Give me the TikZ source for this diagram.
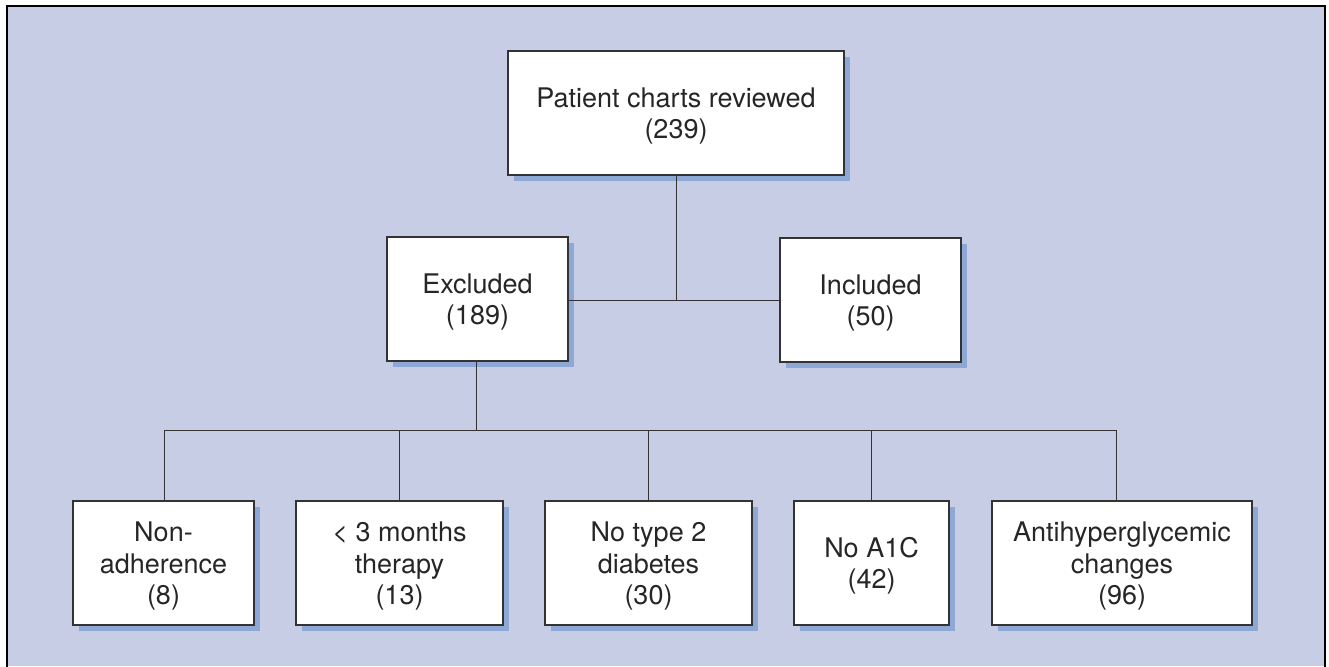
\documentclass[tikz,border=0pt]{standalone}
\usepackage{fontspec}
\setmainfont{TeX Gyre Heros}
\definecolor{bgc}{HTML}{C8CDE6}
\definecolor{shc}{HTML}{8EA8D6}
\definecolor{edc}{HTML}{333333}
\newcommand\mystrut{\rule{0pt}{26pt}}
\begin{document}
\begin{tikzpicture}[x=1pt,y=-1pt,
  box/.style={draw=edc,line width=1.4pt,fill=white,inner sep=0pt,align=center,
    font=\fontsize{27}{31.7}\selectfont,text=black!85},
  conn/.style={draw=edc,line width=1pt}]
\useasboundingbox (0,0) rectangle (1329,666);
\fill[bgc] (7,6) rectangle (1325,666);
\draw[black,line width=1.5pt] (7,667) -- (7,6) -- (1325,6) -- (1325,667);
% shadows
\foreach \l/\t/\r/\b in {508/51/844/175, 387/237/568/361, 780/238/961/362,
  73/501/254/625, 296/501/503/625, 545/501/752/625, 794/501/949/625, 992/501/1252/625}
  \fill[shc] (\l+6,\t+6) rectangle (\r+6,\b+6);
% nodes
\node[box,minimum width=336pt,minimum height=124pt] (top) at (676,113) {\mystrut Patient charts reviewed\\(239)};
\node[box,minimum width=181pt,minimum height=124pt] (exc) at (477.5,299) {\mystrut Excluded\\(189)};
\node[box,minimum width=181pt,minimum height=124pt] (inc) at (870.5,300) {\mystrut Included\\(50)};
\node[box,minimum width=181pt,minimum height=124pt] (b1) at (163.5,563) {\mystrut Non-\\adherence\\(8)};
\node[box,minimum width=207pt,minimum height=124pt] (b2) at (399.5,563) {\mystrut < 3 months\\therapy\\(13)};
\node[box,minimum width=207pt,minimum height=124pt] (b3) at (648.5,563) {\mystrut No type 2\\diabetes\\(30)};
\node[box,minimum width=155pt,minimum height=124pt] (b4) at (871.5,563) {\mystrut No A1C\\(42)};
\node[box,minimum width=260pt,minimum height=124pt] (b5) at (1122,563) {\mystrut Antihyperglycemic\\changes\\(96)};
% connectors
\coordinate (j1) at (676,300);
\coordinate (j2) at (476,430);
\draw[conn] (top.south) -- (j1);
\draw[conn] (exc.east |- j1) -- (inc.west |- j1);
\draw[conn] (exc.south -| j2) -- (j2);
\draw[conn] (164,430) coordinate (l) -- (1116,430) coordinate (r);
\draw[conn] (l) -- (l |- b1.north);
\draw[conn] (399,430) -- (399,501 |- b2.north);
\draw[conn] (648,430) -- (648,501 |- b3.north);
\draw[conn] (871,430) -- (871,501 |- b4.north);
\draw[conn] (r) -- (r |- b5.north);
\end{tikzpicture}
\end{document}
